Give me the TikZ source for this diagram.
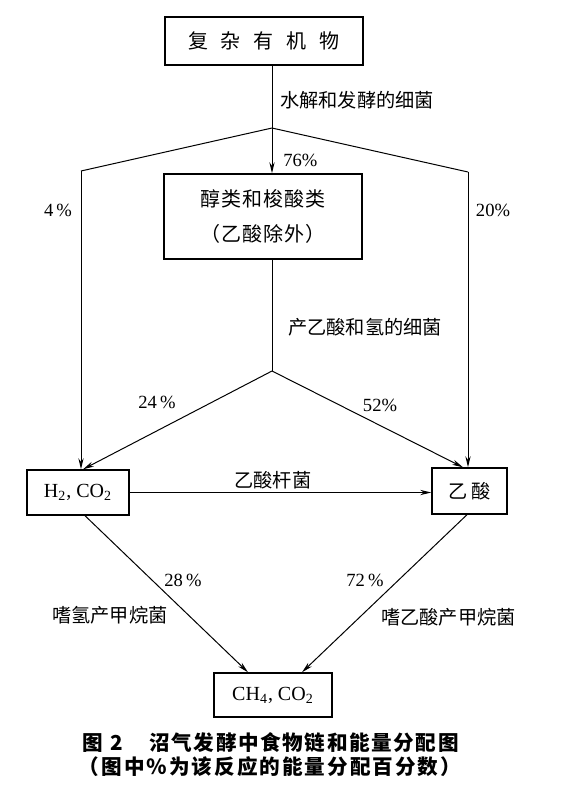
\documentclass[tikz,border=0pt]{standalone}
\usepackage{fontspec}
\setmainfont{Liberation Serif}
\newfontfamily\cjk{Noto Sans CJK SC}
\usetikzlibrary{arrows.meta,calc}
\makeatletter
\newcommand\lsp[2]{\def\lsp@sep{}\@tfor\lsp@c:=#2\do{\lsp@sep\lsp@c\def\lsp@sep{\kern#1}}}
\makeatother
\tikzset{
  box/.style={draw, line width=0.7pt, inner sep=0pt, align=center},
  conn/.style={line width=0.5pt},
  arr/.style={conn, -{Stealth[length=5.5pt,width=2.6pt]}},
  cn/.style={font=\cjk\fontsize{9.6}{12}\selectfont, inner sep=0pt},
  pct/.style={font=\fontsize{9.3}{11}\selectfont, inner sep=0pt},
  chem/.style={font=\fontsize{10}{12}\selectfont},
  captxt/.style={font=\cjk\bfseries\fontsize{10.3}{13}\selectfont, inner sep=0pt},
}
\begin{document}
\begin{tikzpicture}[x=0.5pt,y=-0.5pt]
\useasboundingbox (0,0) rectangle (562,800);

% boxes
\node[box, minimum width=99pt, minimum height=24pt, font=\cjk\fontsize{10}{12}\selectfont] (top) at (264,41) {\lsp{6.5pt}{复杂有机物}};
\node[box, minimum width=99pt, minimum height=42.5pt, font=\cjk\fontsize{10}{17.5}\selectfont] (mid) at (263,216.5) {\lsp{0.5pt}{醇类和梭酸类}\\\lsp{0.5pt}{（乙酸除外）}};
\node[box, chem, minimum width=51pt, minimum height=22.5pt] (h2) at (78,492.5) {H\textsubscript{2}, CO\textsubscript{2}};
\node[box, minimum width=37.5pt, minimum height=23pt, font=\cjk\fontsize{9.6}{12}\selectfont] (acid) at (469.5,491) {乙\kern2pt 酸};
\node[box, chem, minimum width=59pt, minimum height=22pt] (ch4) at (273,695) {CH\textsubscript{4}, CO\textsubscript{2}};

% junctions
\coordinate (j1) at (272,128);
\coordinate (cl) at (81,171);
\coordinate (cr) at (468,172);
\coordinate (j2) at (272,371);

% connectors
\draw[conn] (top.south -| j1) -- (j1);
\draw[conn] (j1) -- (cl);
\draw[conn] (j1) -- (cr);
\draw[arr] (j1) -- (j1 |- mid.north);
\draw[arr] (cl) -- (cl |- h2.north);
\draw[arr] (cr) -- (cr |- acid.north);
\draw[conn] (mid.south -| j2) -- (j2);
\draw[arr] (j2) -- ([xshift=2.5pt]h2.north);
\draw[arr] (j2) -- ([xshift=-3.25pt]acid.north);
\draw[arr] (h2.east) -- (h2.east -| acid.west);
\draw[arr] ([xshift=3.5pt]h2.south) -- ([xshift=-12.5pt]ch4.north);
\draw[arr] ([xshift=-1.25pt]acid.south) -- ([xshift=14.5pt]ch4.north);

% labels
\node[cn, anchor=west] (l1) at (280,100) {水解和发酵的细菌};
\node[pct, anchor=west] (p76) at (283,160) {76\%};
\node[pct] (p4) at (58,210) {4\,\%};
\node[pct] (p20) at (493,210) {20\%};
\node[cn, anchor=west] (l2) at (288,327) {产乙酸和氢的细菌};
\node[pct] (p24) at (157,402) {24\,\%};
\node[pct] (p52) at (380,405) {52\%};
\node[cn] (l3) at (273,480) {乙酸杆菌};
\node[pct] (p28) at (183,580) {28\,\%};
\node[pct] (p72) at (365,580) {72\,\%};
\node[cn] (l4) at (110,615) {嗜氢产甲烷菌};
\node[cn] (l5) at (448.5,617) {嗜乙酸产甲烷菌};

% caption
\node[captxt, anchor=west] (c1) at (82,743) {图\kern4pt 2\kern13pt\lsp{0.8pt}{沼气发酵中食物链和能量分配图}};
\node[captxt] (c2) at (270,767) {\lsp{1pt}{（图中％为该反应的能量分配百分数）}};
\end{tikzpicture}
\end{document}
